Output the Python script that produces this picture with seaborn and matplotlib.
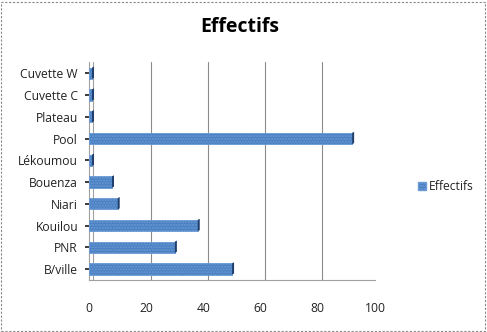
import matplotlib
matplotlib.use("Agg")
import matplotlib.pyplot as plt
from matplotlib.patches import Rectangle, Polygon
import seaborn as sns
import pandas as pd

regions = ["Cuvette W", "Cuvette C", "Plateau", "Pool", "Lékoumou",
           "Bouenza", "Niari", "Kouilou", "PNR", "B/ville"]
effectifs = [1, 1, 1, 92, 1, 8, 10, 38, 30, 50]
x_ticks = [0, 20, 40, 60, 80, 100]

df = pd.DataFrame({"Région": regions, "Effectifs": effectifs})

sns.set_theme(style="white")
plt.rcParams["font.family"] = ["Open Sans", "DejaVu Sans"]

fig = plt.figure(figsize=(4.87, 3.32), dpi=100)
ax = fig.add_axes([0.183, 0.157, 0.587, 0.655])

bar_color = "#4a7fc1"
sns.barplot(data=df, y="Région", x="Effectifs", orient="h", ax=ax,
            color=bar_color, saturation=1, width=0.52,
            edgecolor="#6a9bd6", linewidth=0.6, zorder=3)

# darker end cap on each bar for a shallow depth effect
for p in ax.patches:
    x0, y0 = p.get_x(), p.get_y()
    w, h = p.get_width(), p.get_height()
    cap = 0.7
    ax.add_patch(Polygon([(x0 + w, y0), (x0 + w + cap, y0 - 0.05),
                          (x0 + w + cap, y0 + h - 0.05), (x0 + w, y0 + h)],
                         closed=True, facecolor="#1f3f6e", edgecolor="none",
                         zorder=4))
    p.set_hatch("......")

ax.set_xlim(0, 100)
ax.set_ylim(9.5, -0.5)
ax.set_xticks(x_ticks)
ax.set_xticklabels([str(t) for t in x_ticks], fontsize=8.7, color="#222222")
ax.tick_params(axis="y", labelsize=8.7, colors="#222222", length=3, pad=5,
               left=True)
ax.tick_params(axis="x", length=0, pad=16)
ax.set_xlabel("")
ax.set_ylabel("")

for t in x_ticks[1:]:
    ax.axvline(t + 1.5, color="#8c8c8c", linewidth=0.8, zorder=1)
ax.axvline(1.5, color="#a0a0a0", linewidth=0.8, zorder=1)

for s in ["top", "right"]:
    ax.spines[s].set_visible(False)
for s in ["left", "bottom"]:
    ax.spines[s].set_color("#a0a0a0")
    ax.spines[s].set_linewidth(0.8)

fig.text(0.493, 0.918, "Effectifs", ha="center", va="center",
         fontsize=14, fontweight="bold", color="black")

handle = Rectangle((0, 0), 1, 1, facecolor=bar_color, edgecolor="#6a9bd6",
                   hatch="......")
fig.legend([handle], ["Effectifs"], loc="center left",
           bbox_to_anchor=(0.845, 0.437), frameon=False, fontsize=8.7,
           handlelength=0.7, handleheight=0.7, handletextpad=0.2,
           borderpad=0)

fig.add_artist(Rectangle((0.003, 0.004), 0.993, 0.99, transform=fig.transFigure,
                         fill=False, edgecolor="#888888", linewidth=0.8,
                         linestyle=(0, (2, 1.5))))

fig.savefig("out.png", dpi=100)
